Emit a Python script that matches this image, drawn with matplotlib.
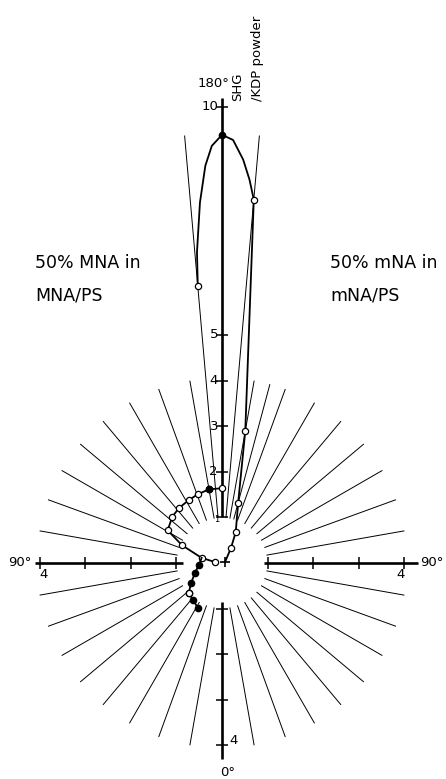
import numpy as np
import matplotlib.pyplot as plt

# SHG intensity relative to KDP powder vs. rotation angle (deg)
# chart angle: 0 deg at bottom, 90 deg at the sides, 180 deg at top

# 50% mNA in mNA/PS (right half, lobe runs slightly past 180 deg)
mna_angle = [185, 184.6, 183.5, 182.4, 181.4, 180, 178.5, 177, 175.9, 175,
             170, 165, 156, 149, 108]
mna_shg = [6.1, 6.84, 7.92, 8.72, 9.15, 9.39, 9.28, 8.86, 8.43, 8.0,
           2.94, 1.37, 0.74, 0.38, 0.07]
mna_open_idx = [0, 9, 10, 11, 12, 13]
mna_filled_idx = [5]

# 50% MNA in MNA/PS (left half)
MNA_up_angle = [180, 170, 161, 152, 142, 133, 121, 114, 104, 98]
MNA_up_shg = [1.64, 1.64, 1.60, 1.56, 1.53, 1.49, 1.39, 0.96, 0.46, 0.155]
MNA_low_angle = [104, 85, 70, 57, 48, 38, 28]
MNA_low_shg = [0.46, 0.51, 0.63, 0.81, 0.98, 1.03, 1.12]

# radial guide lines (chart angle, full turn; >180 is on the left side)
guide_angles = [a for a in range(10, 360, 10) if a not in (90, 180, 270)] + [165]
long_guides = [175, 185]

up_ticks = [1, 2, 3, 4, 5, 10]
side_ticks = [1, 2, 3, 4]

U = 45.6  # pixels per unit
CX, CY = 222, 563


def xy(angle, r, side=1):
    a = np.radians(np.asarray(angle, dtype=float))
    r = np.asarray(r, dtype=float)
    return side * r * np.sin(a), -r * np.cos(a)


def P(px, py):
    return (px - CX) / U, (CY - py) / U


fig = plt.figure(figsize=(4.46, 7.79), dpi=100)
ax = fig.add_axes([0, 0, 1, 1])
ax.set_xlim(-CX / U, (446 - CX) / U)
ax.set_ylim(-(779 - CY) / U, CY / U)
ax.axis("off")

# guide lines
for a in guide_angles:
    x, y = xy([a, a], [1.0, 4.05])
    ax.plot(x, y, color="black", lw=0.7)
for a in long_guides:
    x, y = xy([a, a], [1.0, 9.4])
    ax.plot(x, y, color="black", lw=0.7)

# axes
ax.plot([0, 0], [1.0, 10.2], color="black", lw=1.9, solid_capstyle="butt")
ax.plot([0, 0], [-0.85, -4.3], color="black", lw=1.9, solid_capstyle="butt")
ax.plot([-0.86, -4.1], [0, 0], color="black", lw=1.9, solid_capstyle="butt")
ax.plot([0.92, 4.3], [0, 0], color="black", lw=1.9, solid_capstyle="butt")

ax.plot(np.zeros(len(up_ticks)), up_ticks, ls="none", marker="_", ms=8, mew=1.1, color="black")
ax.plot(np.zeros(len(side_ticks)), -np.array(side_ticks), ls="none", marker="_", ms=8, mew=1.1, color="black")
ax.plot(-np.array(side_ticks), np.zeros(len(side_ticks)), ls="none", marker="|", ms=8, mew=1.1, color="black")
ax.plot(np.array(side_ticks), np.zeros(len(side_ticks)), ls="none", marker="|", ms=8, mew=1.1, color="black")

# mNA curve
x, y = xy(mna_angle, mna_shg)
ax.plot(x, y, color="black", lw=1.3)
ax.plot(x[mna_open_idx], y[mna_open_idx], ls="none", marker="o", ms=4.5,
        mfc="white", mec="black", mew=0.9)
ax.plot(x[mna_filled_idx], y[mna_filled_idx], ls="none", marker="o", ms=4.5,
        color="black")
ax.plot(x[-1:], y[-1:], ls="none", marker="+", ms=7, mew=1.2, color="black")

# MNA curve
x, y = xy(MNA_up_angle, MNA_up_shg, side=-1)
ax.plot(x, y, color="black", lw=1.3)
ax.plot(x, y, ls="none", marker="o", ms=4.5, mfc="white", mec="black", mew=0.9)
ax.plot(x[1:2], y[1:2], ls="none", marker="o", ms=4.5, color="black")
x, y = xy(MNA_low_angle, MNA_low_shg, side=-1)
ax.plot(x, y, color="black", lw=1.3)
ax.plot(x[1:], y[1:], ls="none", marker="o", ms=4.5, color="black")
ax.plot(x[4:5], y[4:5], ls="none", marker="o", ms=4.5, mfc="white", mec="black", mew=0.9)

# labels
small = dict(family=["DejaVu Sans"], fontsize=9.5, color="black")
big = dict(family=["DejaVu Sans"], fontsize=12.5, color="black")

ax.text(*P(214, 87), "180°", ha="center", va="baseline", **small)
ax.text(*P(238, 101), "SHG", rotation=90, ha="center", va="bottom", **small)
ax.text(*P(258, 101), "/KDP powder", rotation=90, ha="center", va="bottom", **small)
for t in [10, 5, 4, 3, 2]:
    ax.text(-4 / U, t, str(t), ha="right", va="center", **small)
ax.text(*P(217, 520), "1", ha="center", va="center", family=["DejaVu Sans"], fontsize=6)

ax.text(*P(8, 562), "90°", ha="left", va="center", **small)
ax.text(*P(444, 562), "90°", ha="right", va="center", **small)
ax.text(*P(44, 575), "4", ha="center", va="center", **small)
ax.text(*P(401, 574), "4", ha="center", va="center", **small)
ax.text(*P(229, 740), "4", ha="left", va="center", **small)
ax.text(*P(228, 772), "0°", ha="center", va="center", **small)

ax.text(*P(35, 263), "50% MNA in", ha="left", va="center", **big)
ax.text(*P(35, 296), "MNA/PS", ha="left", va="center", **big)
ax.text(*P(330, 263), "50% mNA in", ha="left", va="center", **big)
ax.text(*P(330, 296), "mNA/PS", ha="left", va="center", **big)

fig.savefig("out.png", dpi=100)
